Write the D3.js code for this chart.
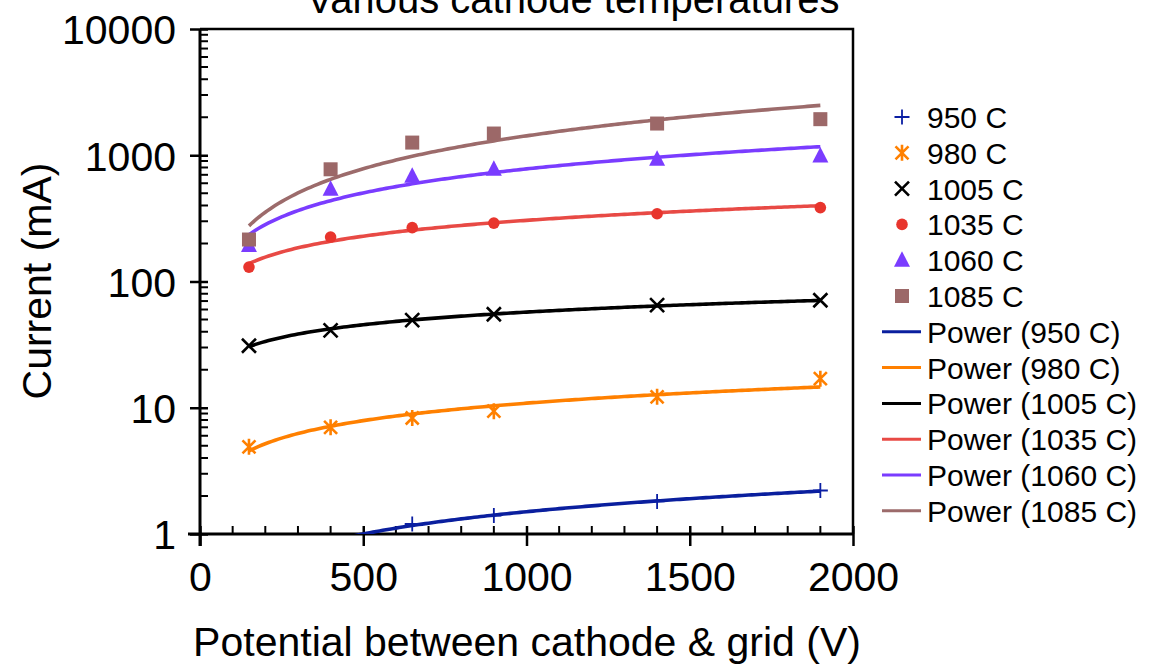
<!DOCTYPE html>
<html>
<head>
<meta charset="utf-8">
<script src="https://cdn.jsdelivr.net/npm/d3@7"></script>
<style>
  body { margin: 0; background: #fff; }
  text { font-family: "Liberation Sans", Arial, Helvetica, sans-serif; fill: #000; }
</style>
</head>
<body>
<script>
//chart size
var w = 1155, h = 665;

//potential between cathode and grid (V)
var voltages = [150, 400, 650, 900, 1400, 1900];

//current (mA) for each cathode temperature
var temps = ["950 C", "980 C", "1005 C", "1035 C", "1060 C", "1085 C"];
var cur950 = [0.5, 0.85, 1.2, 1.4, 1.81, 2.21];
var cur980 = [4.9, 7.0, 8.3, 9.4, 12.2, 17.0];
var cur1005 = [31, 41, 49.5, 55, 65, 71];
var cur1035 = [130, 225, 267, 290, 344, 385];
var cur1060 = [193, 537, 681, 774, 929, 988];
var cur1085 = [215, 774, 1260, 1486, 1783, 1931];

var xTicks = [0, 500, 1000, 1500, 2000];
var yTicks = [1, 10, 100, 1000, 10000];

var colors = ["#0b1fa3", "#ff8000", "#000000", "#e8352d", "#7a3cff", "#9c6868"];
var lineColors = ["#0a1f9e", "#ff8000", "#000000", "#e84a45", "#7a3cff", "#9c6b6b"];
var shapes = ["plus", "asterisk", "cross", "circle", "triangle", "square"];

var allSeries = [cur950, cur980, cur1005, cur1035, cur1060, cur1085];

//plot area
var pLeft = 200, pRight = 853, pTop = 29, pBottom = 534;

var svg = d3.select("body")
    .append("svg")
    .attr("width", w)
    .attr("height", h);

var x = d3.scaleLinear()
    .domain([0, 2000])
    .range([pLeft, pRight]);

var y = d3.scaleLog()
    .domain([1, 10000])
    .range([pBottom, pTop]);

//clip for the trendlines and markers
svg.append("clipPath")
    .attr("id", "plotClip")
    .append("rect")
    .attr("x", pLeft)
    .attr("y", pTop - 10)
    .attr("width", pRight - pLeft + 12)
    .attr("height", pBottom - pTop + 10);

//frame (top and right)
svg.append("path")
    .attr("d", "M" + pLeft + "," + pTop + "H" + pRight + "V" + pBottom)
    .attr("fill", "none")
    .attr("stroke", "#000")
    .attr("stroke-width", 2.5);

//minor ticks on y (2..9 of each decade)
var yMinor = [];
for (var e = 0; e < 4; e++) {
    for (var k = 2; k < 10; k++) yMinor.push(k * Math.pow(10, e));
}
svg.selectAll(".yminor")
    .data(yMinor)
    .enter()
    .append("line")
    .attr("class", "yminor")
    .attr("x1", pLeft)
    .attr("x2", pLeft + 8)
    .attr("y1", function(d){ return y(d); })
    .attr("y2", function(d){ return y(d); })
    .attr("stroke", "#000")
    .attr("stroke-width", 2);

//minor ticks on x (every 100)
var xMinor = d3.range(100, 2000, 100).filter(function(d){ return d % 500 !== 0; });
svg.selectAll(".xminor")
    .data(xMinor)
    .enter()
    .append("line")
    .attr("class", "xminor")
    .attr("x1", function(d){ return x(d); })
    .attr("x2", function(d){ return x(d); })
    .attr("y1", pBottom)
    .attr("y2", pBottom - 8)
    .attr("stroke", "#000")
    .attr("stroke-width", 2);

//y axis
var yAxis = d3.axisLeft(y)
    .tickValues(yTicks)
    .tickFormat(d3.format("d"))
    .tickSize(10)
    .tickPadding(14);

var gy = svg.append("g")
    .attr("transform", "translate(" + pLeft + ",0)")
    .call(yAxis);
gy.select(".domain").attr("stroke-width", 3).attr("d", "M0," + pTop + "V" + (pBottom + 12));
gy.selectAll(".tick line").attr("x2", -10).attr("x1", 8).attr("stroke-width", 2.5);
gy.selectAll(".tick text")
    .attr("font-size", 41)
    .attr("dy", "0.36em")
    .attr("font-family", "Liberation Sans, Arial, sans-serif");

//x axis
var xAxis = d3.axisBottom(x)
    .tickValues(xTicks)
    .tickFormat(d3.format("d"))
    .tickSize(12)
    .tickPadding(16);

var gx = svg.append("g")
    .attr("transform", "translate(0," + pBottom + ")")
    .call(xAxis);
gx.select(".domain").attr("stroke-width", 3).attr("d", "M" + (pLeft - 12) + ",0H" + pRight);
gx.selectAll(".tick line").attr("y1", -8).attr("y2", 12).attr("stroke-width", 2.5);
gx.selectAll(".tick text")
    .attr("font-size", 41)
    .attr("dy", "0.7em")
    .attr("font-family", "Liberation Sans, Arial, sans-serif");

//power trendline (least squares in log-log space, like Excel)
function powerFit(xs, ys) {
    var lx = xs.map(Math.log), ly = ys.map(Math.log);
    var mx = d3.mean(lx), my = d3.mean(ly);
    var num = d3.sum(lx, function(v, i){ return (v - mx) * (ly[i] - my); });
    var den = d3.sum(lx, function(v){ return (v - mx) * (v - mx); });
    var b = num / den;
    var a = Math.exp(my - b * mx);
    return function(v){ return a * Math.pow(v, b); };
}

var plot = svg.append("g").attr("clip-path", "url(#plotClip)");

var line = d3.line()
    .x(function(d){ return x(d[0]); })
    .y(function(d){ return y(d[1]); });

allSeries.forEach(function(vals, i){
    var f = powerFit(voltages, vals);
    var pts = d3.range(voltages[0], voltages[voltages.length - 1] + 1, 10).map(function(v){ return [v, f(v)]; });
    plot.append("path")
        .datum(pts)
        .attr("d", line)
        .attr("fill", "none")
        .attr("stroke", lineColors[i])
        .attr("stroke-width", 3.6);
});

//marker drawing
function drawMarker(g, shape, color, cx, cy) {
    if (shape === "plus") {
        g.append("path").attr("d", "M" + (cx - 7.5) + "," + cy + "h15M" + cx + "," + (cy - 7.5) + "v15")
            .attr("stroke", color).attr("stroke-width", 1.8).attr("fill", "none");
    } else if (shape === "asterisk") {
        g.append("path").attr("d", "M" + (cx - 6.5) + "," + (cy - 6.5) + "l13,13M" + (cx + 6.5) + "," + (cy - 6.5) + "l-13,13M" + cx + "," + (cy - 8) + "v16")
            .attr("stroke", color).attr("stroke-width", 2.6).attr("fill", "none");
    } else if (shape === "cross") {
        g.append("path").attr("d", "M" + (cx - 7) + "," + (cy - 7) + "l14,14M" + (cx + 7) + "," + (cy - 7) + "l-14,14")
            .attr("stroke", color).attr("stroke-width", 2.6).attr("fill", "none");
    } else if (shape === "circle") {
        g.append("circle").attr("cx", cx).attr("cy", cy).attr("r", 5.8).attr("fill", color);
    } else if (shape === "triangle") {
        g.append("path").attr("d", "M" + cx + "," + (cy - 9) + "L" + (cx + 8) + "," + (cy + 6.5) + "L" + (cx - 8) + "," + (cy + 6.5) + "Z")
            .attr("fill", color);
    } else if (shape === "square") {
        g.append("rect").attr("x", cx - 7).attr("y", cy - 7).attr("width", 14).attr("height", 14).attr("fill", color);
    }
}

allSeries.forEach(function(vals, i){
    var g = plot.append("g").attr("class", "series");
    vals.forEach(function(v, j){
        drawMarker(g, shapes[i], colors[i], x(voltages[j]), y(v));
    });
});

//legend
var legend = svg.append("g").attr("class", "legend");
temps.forEach(function(t, i){
    var ly = 117 + i * 35.8;
    drawMarker(legend, shapes[i], colors[i], 902, ly);
    legend.append("text")
        .attr("x", 927)
        .attr("y", ly + 11)
        .attr("font-size", 30)
        .text(t);
});
temps.forEach(function(t, i){
    var ly = 117 + (i + 6) * 35.8;
    legend.append("line")
        .attr("x1", 882).attr("x2", 921)
        .attr("y1", ly).attr("y2", ly)
        .attr("stroke", lineColors[i])
        .attr("stroke-width", 3);
    legend.append("text")
        .attr("x", 927)
        .attr("y", ly + 11)
        .attr("font-size", 30)
        .text("Power (" + t + ")");
});

//title (partly cut off at top, as in the original)
svg.append("text")
    .attr("x", 573)
    .attr("y", 13)
    .attr("text-anchor", "middle")
    .attr("font-size", 40)
    .text("Various cathode temperatures");

//axis titles
svg.append("text")
    .attr("x", 527)
    .attr("y", 656)
    .attr("text-anchor", "middle")
    .attr("font-size", 41)
    .text("Potential between cathode & grid (V)");

svg.append("text")
    .attr("transform", "translate(51,281) rotate(-90)")
    .attr("text-anchor", "middle")
    .attr("font-size", 41)
    .text("Current (mA)");
</script>
</body>
</html>
